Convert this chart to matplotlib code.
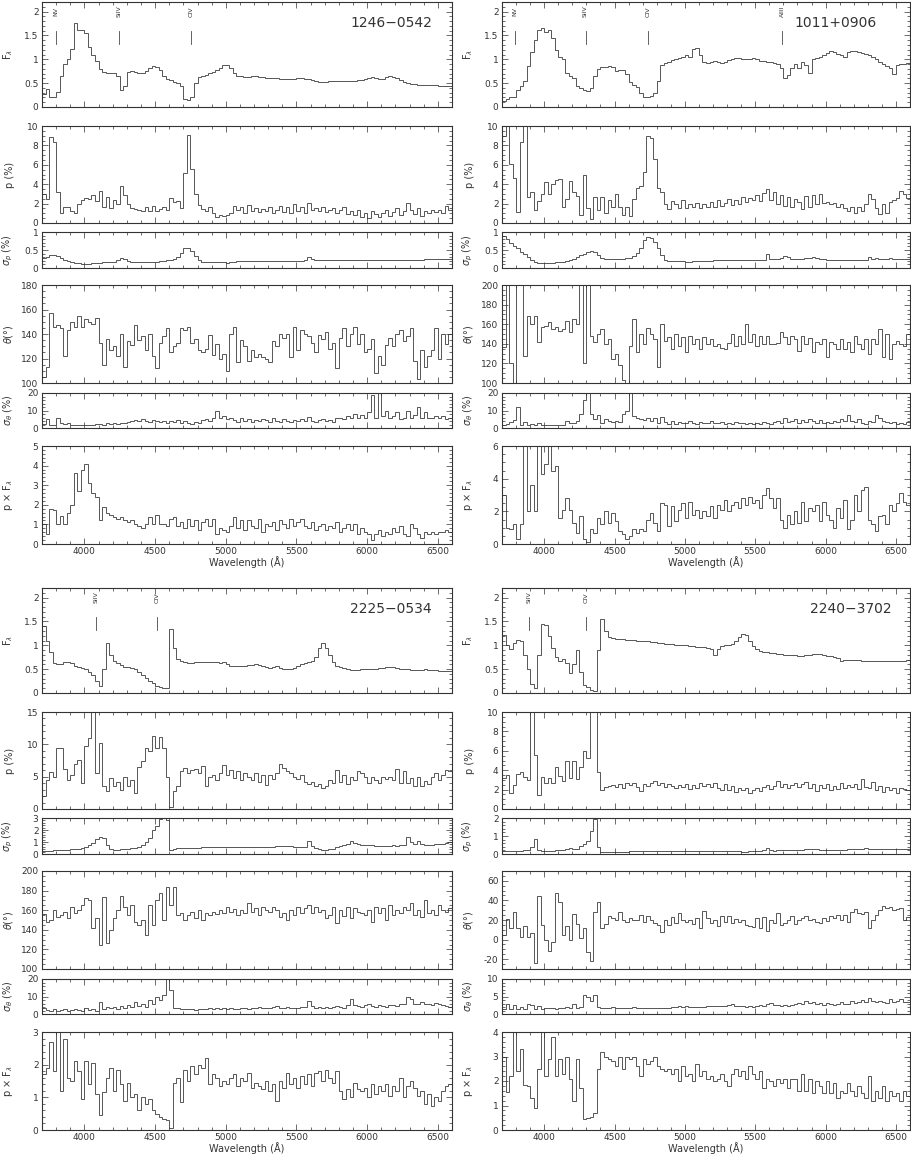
import numpy as np
import matplotlib
matplotlib.use('Agg')
import matplotlib.pyplot as plt
from matplotlib.ticker import MultipleLocator, AutoMinorLocator, FuncFormatter

# bin edges, 25 A wide, 3700-6600 A
edges = np.arange(3700, 6601, 25)

## 1246-0542
f_1246 = [0.28, 0.38, 0.22, 0.21, 0.32, 0.65, 0.90, 1.00,
          1.22, 1.75, 1.62, 1.62, 1.55, 1.25, 1.10, 0.97,
          0.80, 0.73, 0.72, 0.71, 0.72, 0.66, 0.36, 0.45,
          0.73, 0.75, 0.74, 0.72, 0.72, 0.76, 0.82, 0.85,
          0.83, 0.77, 0.65, 0.58, 0.56, 0.53, 0.50, 0.45,
          0.16, 0.15, 0.22, 0.50, 0.62, 0.64, 0.68, 0.71,
          0.73, 0.77, 0.82, 0.88, 0.88, 0.82, 0.72, 0.66,
          0.65, 0.63, 0.62, 0.64, 0.64, 0.63, 0.62, 0.61,
          0.61, 0.60, 0.60, 0.59, 0.59, 0.58, 0.58, 0.59,
          0.60, 0.60, 0.59, 0.58, 0.56, 0.55, 0.53, 0.52,
          0.53, 0.54, 0.54, 0.54, 0.54, 0.54, 0.54, 0.55,
          0.55, 0.56, 0.57, 0.58, 0.60, 0.62, 0.61, 0.58,
          0.59, 0.62, 0.64, 0.63, 0.60, 0.57, 0.53, 0.50,
          0.49, 0.48, 0.47, 0.47, 0.47, 0.46, 0.46, 0.46,
          0.45, 0.45, 0.44, 0.44]
p_1246 = [3.0, 2.5, 8.9, 8.3, 3.2, 1.0, 1.7, 1.7,
          1.2, 1.0, 2.0, 2.4, 2.6, 2.5, 2.9, 2.3,
          3.3, 1.6, 2.7, 1.5, 2.4, 2.0, 3.8, 2.9,
          2.0, 1.5, 1.4, 1.3, 1.2, 1.7, 1.2, 1.8,
          1.2, 1.4, 1.6, 1.3, 2.6, 2.2, 2.3, 1.5,
          5.2, 9.1, 5.6, 3.0, 1.9, 1.4, 1.2, 1.7,
          1.0, 0.6, 0.8, 0.7, 0.8, 1.0, 1.8, 1.3,
          1.6, 1.0, 1.9, 1.2, 1.5, 1.1, 1.4, 1.2,
          1.6, 1.0, 1.3, 1.8, 1.1, 1.7, 1.0, 2.0,
          1.2, 1.6, 1.0, 2.1, 1.3, 1.5, 1.2, 1.6,
          1.1, 1.3, 1.5, 1.0, 1.3, 1.6, 0.9, 1.2,
          0.8, 1.3, 0.6, 1.0, 0.5, 1.2, 0.9, 0.6,
          1.0, 1.3, 0.7, 1.1, 1.5, 0.8, 1.2, 2.1,
          1.3, 0.9, 1.5, 0.7, 1.2, 1.0, 1.3, 1.1,
          1.3, 1.0, 1.8, 1.3]
sigp_1246 = [0.28, 0.30, 0.35, 0.36, 0.33, 0.27, 0.22, 0.19,
             0.16, 0.14, 0.13, 0.12, 0.12, 0.12, 0.13, 0.14,
             0.15, 0.16, 0.17, 0.17, 0.18, 0.22, 0.27, 0.24,
             0.19, 0.17, 0.17, 0.17, 0.17, 0.17, 0.18, 0.18,
             0.18, 0.19, 0.20, 0.21, 0.22, 0.24, 0.30, 0.42,
             0.55, 0.56, 0.48, 0.32, 0.22, 0.18, 0.17, 0.17,
             0.17, 0.17, 0.16, 0.16, 0.15, 0.17, 0.18, 0.19,
             0.19, 0.20, 0.20, 0.20, 0.20, 0.20, 0.20, 0.20,
             0.20, 0.20, 0.20, 0.20, 0.20, 0.20, 0.20, 0.20,
             0.20, 0.20, 0.21, 0.30, 0.26, 0.21, 0.21, 0.22,
             0.22, 0.22, 0.22, 0.22, 0.21, 0.21, 0.22, 0.22,
             0.22, 0.22, 0.22, 0.22, 0.22, 0.22, 0.21, 0.21,
             0.21, 0.21, 0.21, 0.22, 0.22, 0.22, 0.22, 0.22,
             0.22, 0.22, 0.23, 0.23, 0.24, 0.24, 0.25, 0.25,
             0.25, 0.25, 0.25, 0.26]
theta_1246 = [105, 113, 157, 146, 147, 145, 122, 143,
              150, 146, 155, 146, 152, 150, 148, 153,
              133, 115, 136, 127, 130, 122, 140, 113,
              134, 131, 147, 135, 138, 127, 140, 122,
              112, 133, 138, 145, 125, 130, 133, 145,
              143, 146, 133, 136, 127, 125, 128, 139,
              123, 132, 120, 124, 110, 140, 146, 117,
              135, 130, 118, 127, 121, 124, 121, 120,
              117, 134, 130, 140, 137, 140, 121, 146,
              127, 143, 140, 138, 133, 125, 139, 136,
              142, 128, 133, 112, 137, 145, 130, 140,
              146, 132, 140, 125, 128, 136, 108, 122,
              115, 131, 137, 130, 140, 143, 134, 138,
              145, 118, 103, 127, 113, 122, 127, 145,
              120, 140, 132, 140]
sigt_1246 = [2.5, 5.0, 1.5, 2.0, 5.5, 3.0, 2.5, 3.0,
             2.0, 1.8, 1.6, 1.5, 1.6, 1.6, 1.8, 2.2,
             2.5, 2.0, 3.0, 2.5, 2.8, 2.5, 3.0, 3.0,
             3.5, 4.0, 4.5, 4.0, 5.0, 4.0, 3.5, 4.5,
             4.0, 3.5, 4.0, 3.0, 4.0, 3.5, 4.5, 3.0,
             4.0, 3.0, 2.5, 3.5, 3.0, 4.5, 5.0, 4.0,
             6.0, 10.0, 6.0, 7.0, 5.0, 6.0, 4.5, 3.5,
             5.5, 4.0, 5.0, 3.5, 4.5, 4.0, 5.0, 4.5,
             3.5, 5.5, 4.0, 3.5, 5.0, 4.0, 3.5, 4.5,
             4.0, 5.0, 4.0, 6.5, 4.0, 3.5, 4.5, 5.0,
             4.0, 4.5, 3.5, 6.0, 5.5, 5.0, 7.0, 5.5,
             8.0, 6.0, 7.5, 5.5, 9.0, 19.0, 6.0, 20.0,
             7.0, 10.0, 5.5, 7.0, 9.0, 5.0, 6.0, 10.0,
             5.5, 7.5, 12.0, 6.0, 9.0, 5.5, 6.0, 7.0,
             6.0, 7.0, 5.0, 6.0]
pf_1246 = [1.0, 0.5, 1.8, 1.75, 1.0, 1.45, 1.0, 1.6,
           2.0, 3.6, 2.7, 3.8, 4.1, 3.1, 2.6, 2.4,
           1.2, 1.9, 1.6, 1.5, 1.4, 1.3, 1.4, 1.2,
           1.1, 1.2, 1.0, 0.9, 0.8, 1.0, 1.4, 1.0,
           1.5, 1.0, 1.0, 0.9, 1.3, 1.4, 0.9, 1.1,
           0.8, 1.3, 0.9, 1.2, 0.7, 1.1, 1.3, 0.9,
           1.3, 0.5, 0.8, 0.7, 0.6, 0.9, 1.4, 0.8,
           1.2, 0.7, 1.2, 0.9, 0.8, 1.3, 0.6, 1.0,
           0.9, 1.1, 0.7, 1.2, 1.0, 0.8, 1.3, 0.9,
           1.1, 1.3, 0.9, 0.8, 1.1, 0.7, 0.9, 1.0,
           0.7, 0.9, 0.8, 1.1, 0.6, 0.8, 1.0, 0.7,
           1.0, 0.5, 0.8, 0.6, 0.5, 0.2, 0.5, 0.7,
           0.4, 0.6, 0.5, 0.8, 0.6, 0.9, 0.5, 0.4,
           1.0, 0.8, 0.5, 0.3, 0.6, 0.5, 0.6, 0.5,
           0.6, 0.6, 0.7, 0.6]

## 1011+0906
f_1011 = [0.12, 0.17, 0.20, 0.20, 0.35, 0.45, 0.55, 0.85,
          1.15, 1.40, 1.62, 1.65, 1.58, 1.62, 1.45, 1.20,
          1.05, 1.00, 0.72, 0.65, 0.60, 0.45, 0.40, 0.36,
          0.34, 0.40, 0.65, 0.80, 0.83, 0.84, 0.85, 0.84,
          0.75, 0.78, 0.78, 0.70, 0.52, 0.47, 0.42, 0.30,
          0.22, 0.22, 0.23, 0.30, 0.55, 0.88, 0.92, 0.95,
          0.98, 1.00, 1.02, 1.05, 1.10, 1.05, 1.22, 1.24,
          1.10, 0.95, 0.92, 0.95, 0.96, 0.94, 0.93, 0.95,
          0.98, 1.00, 1.02, 1.02, 1.00, 1.01, 1.00, 1.02,
          1.00, 0.97, 0.96, 0.95, 0.95, 0.93, 0.90, 0.82,
          0.60, 0.68, 0.82, 0.90, 0.82, 0.95, 0.88, 0.72,
          1.00, 1.02, 1.05, 1.10, 1.13, 1.17, 1.15, 1.12,
          1.08, 1.05, 1.15, 1.17, 1.18, 1.16, 1.14, 1.12,
          1.08, 1.05, 1.00, 0.95, 0.90, 0.86, 0.82, 0.70,
          0.88, 0.90, 0.91, 0.92]
p_1011 = [9.0, 11.0, 6.1, 4.6, 1.1, 8.4, 11.0, 2.7,
          3.2, 1.3, 2.3, 3.0, 4.2, 3.0, 4.0, 4.4,
          4.5, 1.7, 2.5, 4.3, 3.2, 2.8, 0.8, 5.0,
          1.5, 0.4, 2.7, 1.3, 2.7, 1.0, 2.4, 1.7,
          3.0, 1.6, 0.8, 1.7, 0.7, 2.5, 3.6, 3.8,
          5.3, 9.0, 8.8, 6.6, 3.6, 3.2, 2.0, 1.4,
          2.3, 2.0, 1.5, 2.4, 1.5, 2.0, 1.6, 2.1,
          1.5, 2.0, 1.7, 2.2, 1.6, 2.4, 1.8, 2.1,
          2.5, 1.9, 2.4, 2.0, 2.7, 2.2, 2.6, 2.4,
          2.9, 2.3, 3.1, 3.5, 2.4, 3.2, 2.0, 2.9,
          1.8, 2.7, 1.6, 2.5, 2.2, 1.4, 2.8, 1.7,
          2.9, 2.0, 3.0, 2.1, 2.2, 2.0, 2.1, 1.7,
          2.0, 1.5, 1.2, 1.7, 1.0, 1.6, 1.2, 2.0,
          3.0, 2.5, 1.5, 0.9, 2.0, 1.0, 2.2, 2.4,
          2.6, 3.3, 3.0, 2.6]
sigp_1011 = [0.90, 0.80, 0.70, 0.62, 0.55, 0.45, 0.38, 0.30,
             0.22, 0.18, 0.15, 0.14, 0.14, 0.15, 0.15, 0.16,
             0.17, 0.18, 0.20, 0.22, 0.25, 0.30, 0.35, 0.40,
             0.45, 0.47, 0.45, 0.35, 0.27, 0.25, 0.25, 0.24,
             0.25, 0.25, 0.26, 0.27, 0.28, 0.33, 0.42, 0.55,
             0.78, 0.85, 0.82, 0.72, 0.55, 0.35, 0.22, 0.20,
             0.20, 0.20, 0.19, 0.19, 0.18, 0.18, 0.19, 0.20,
             0.20, 0.20, 0.20, 0.20, 0.21, 0.21, 0.21, 0.21,
             0.21, 0.21, 0.21, 0.21, 0.21, 0.22, 0.22, 0.22,
             0.22, 0.22, 0.23, 0.38, 0.25, 0.24, 0.25, 0.29,
             0.32, 0.30, 0.26, 0.25, 0.24, 0.25, 0.27, 0.28,
             0.30, 0.28, 0.26, 0.24, 0.22, 0.22, 0.22, 0.21,
             0.21, 0.21, 0.21, 0.22, 0.22, 0.22, 0.23, 0.23,
             0.30, 0.25, 0.27, 0.25, 0.24, 0.26, 0.27, 0.26,
             0.25, 0.25, 0.24, 0.24]
theta_1011 = [137, 205, 120, 90, 205, 200, 128, 168,
              160, 168, 142, 157, 158, 162, 155, 157,
              153, 155, 163, 152, 165, 160, 205, 120,
              205, 148, 142, 150, 155, 140, 145, 125,
              130, 118, 103, 93, 138, 165, 132, 150,
              140, 156, 150, 145, 116, 160, 143, 147,
              135, 150, 138, 147, 132, 148, 140, 145,
              135, 147, 140, 145, 138, 140, 136, 135,
              141, 150, 138, 148, 140, 160, 142, 150,
              138, 148, 140, 148, 140, 140, 141, 152,
              147, 140, 148, 145, 133, 148, 140, 146,
              132, 142, 140, 145, 127, 142, 140, 135,
              145, 135, 142, 132, 148, 140, 135, 145,
              130, 145, 140, 155, 127, 150, 125, 140,
              143, 140, 138, 150]
sigt_1011 = [2.0, 2.5, 3.5, 4.5, 12.0, 2.0, 3.5, 2.0,
             2.5, 2.0, 3.0, 2.0, 1.5, 1.5, 1.8, 1.5,
             2.0, 1.8, 4.0, 3.0, 2.8, 4.0, 8.0, 16.0,
             20.0, 8.0, 5.0, 7.5, 3.0, 5.0, 4.0, 3.5,
             4.0, 3.5, 8.0, 9.5, 20.0, 7.0, 6.0, 5.0,
             4.5, 6.0, 4.0, 5.5, 3.0, 6.5, 3.5, 2.5,
             4.0, 2.5, 3.5, 3.0, 2.8, 4.0, 3.0, 2.5,
             3.5, 2.8, 3.0, 4.0, 3.0, 3.0, 3.5, 2.5,
             3.0, 2.5, 3.5, 2.8, 3.0, 2.5, 2.8, 2.5,
             3.0, 2.5, 3.5, 3.0, 2.5, 3.5, 4.0, 3.0,
             5.5, 3.5, 4.0, 5.0, 3.0, 4.5, 3.5, 5.0,
             4.0, 3.0, 4.5, 3.0, 3.5, 2.8, 4.0, 3.5,
             5.0, 4.0, 7.5, 4.0, 3.5, 5.0, 3.0, 2.5,
             4.0, 3.5, 7.5, 6.0, 4.0, 3.5, 3.0, 3.5,
             2.5, 3.0, 2.5, 3.5]
pf_1011 = [3.0, 1.0, 0.9, 1.2, 0.3, 1.2, 6.5, 2.0,
           3.6, 2.0, 6.5, 4.3, 4.9, 6.5, 4.5, 4.8,
           1.6, 2.1, 2.8, 2.1, 1.3, 0.7, 1.7, 0.3,
           0.15, 0.9, 0.7, 1.6, 1.2, 2.0, 1.3, 1.9,
           1.4, 0.8, 0.6, 0.3, 0.5, 0.9, 0.7, 0.9,
           0.8, 1.5, 1.9, 1.3, 0.8, 2.5, 2.4, 1.1,
           2.3, 1.4, 2.1, 2.5, 1.6, 2.6, 1.8, 2.1,
           1.6, 2.0, 1.7, 2.3, 1.6, 2.4, 2.1, 2.7,
           2.0, 2.4, 2.6, 2.2, 2.8, 2.4, 2.9, 2.5,
           2.7, 2.2, 3.0, 3.4, 2.8, 2.2, 2.8, 1.5,
           1.0, 1.8, 1.2, 2.0, 1.3, 2.6, 1.4, 2.2,
           2.0, 2.4, 1.4, 2.6, 1.8, 1.5, 1.0, 2.2,
           1.6, 2.7, 0.9, 1.5, 3.0, 2.0, 3.3, 3.5,
           1.5, 1.2, 0.8, 1.7, 1.8, 1.2, 2.4, 2.0,
           2.5, 3.1, 2.6, 2.4]

## 2225-0534
f_2225 = [1.40, 1.10, 0.85, 0.62, 0.60, 0.60, 0.64, 0.65,
          0.63, 0.57, 0.55, 0.53, 0.50, 0.45, 0.38, 0.25,
          0.15, 0.50, 1.05, 0.80, 0.67, 0.62, 0.58, 0.55,
          0.54, 0.53, 0.50, 0.45, 0.38, 0.32, 0.25, 0.20,
          0.15, 0.12, 0.10, 0.10, 1.35, 0.95, 0.72, 0.68,
          0.65, 0.63, 0.63, 0.64, 0.64, 0.65, 0.64, 0.65,
          0.65, 0.66, 0.63, 0.64, 0.60, 0.57, 0.56, 0.56,
          0.56, 0.57, 0.58, 0.59, 0.60, 0.58, 0.56, 0.55,
          0.53, 0.55, 0.57, 0.53, 0.51, 0.50, 0.50, 0.52,
          0.57, 0.60, 0.63, 0.65, 0.68, 0.75, 0.95, 1.05,
          0.95, 0.80, 0.65, 0.57, 0.55, 0.52, 0.50, 0.49,
          0.48, 0.49, 0.50, 0.50, 0.50, 0.50, 0.51, 0.52,
          0.53, 0.54, 0.55, 0.54, 0.52, 0.51, 0.50, 0.50,
          0.49, 0.49, 0.48, 0.49, 0.50, 0.49, 0.48, 0.48,
          0.47, 0.47, 0.47, 0.47]
p_2225 = [2.0, 4.5, 5.7, 5.0, 9.5, 9.4, 6.2, 4.5,
          5.2, 7.0, 7.6, 4.0, 9.8, 11.0, 15.5, 5.5,
          10.2, 3.5, 2.8, 4.8, 3.5, 4.2, 3.0, 5.0,
          3.5, 4.5, 2.5, 6.5, 7.5, 9.5, 9.0, 11.3,
          9.5, 11.2, 9.5, 5.0, 0.3, 2.8, 3.5, 5.8,
          6.3, 5.5, 6.0, 6.2, 5.5, 6.7, 3.5, 5.0,
          5.2, 4.5, 5.5, 6.8, 5.2, 6.0, 4.8, 5.8,
          4.5, 5.5, 5.0, 4.5, 5.5, 4.2, 5.3, 3.7,
          5.2, 4.6, 5.5, 6.9, 6.4, 5.8, 5.5, 5.0,
          4.6, 5.3, 4.2, 3.8, 4.2, 3.6, 3.8, 3.3,
          3.6, 4.5, 4.0, 6.1, 4.2, 5.3, 3.8, 5.0,
          4.5, 5.8, 5.5, 5.0, 4.0, 5.0, 4.5, 4.0,
          5.0, 4.6, 5.0, 4.5, 6.2, 4.0, 5.8, 4.0,
          4.8, 3.6, 5.0, 3.5, 4.3, 3.8, 5.0, 5.5,
          4.5, 5.2, 6.0, 5.8]
sigp_2225 = [0.25, 0.27, 0.28, 0.30, 0.30, 0.32, 0.35, 0.37,
             0.40, 0.42, 0.45, 0.50, 0.60, 0.75, 0.95, 1.25,
             1.40, 1.30, 0.75, 0.45, 0.32, 0.35, 0.40, 0.42,
             0.45, 0.47, 0.50, 0.60, 0.75, 1.00, 1.35, 2.00,
             2.30, 2.90, 3.00, 2.80, 0.35, 0.45, 0.50, 0.50,
             0.52, 0.53, 0.53, 0.54, 0.54, 0.55, 0.55, 0.55,
             0.55, 0.55, 0.55, 0.55, 0.55, 0.55, 0.55, 0.56,
             0.56, 0.57, 0.58, 0.58, 0.60, 0.62, 0.62, 0.60,
             0.60, 0.62, 0.63, 0.64, 0.65, 0.65, 0.64, 0.62,
             0.60, 0.60, 0.60, 1.05, 0.65, 0.50, 0.40, 0.35,
             0.35, 0.40, 0.45, 0.55, 0.65, 0.75, 0.85, 1.05,
             0.90, 0.80, 0.78, 0.75, 0.72, 0.72, 0.70, 0.70,
             0.70, 0.68, 0.70, 0.72, 0.70, 0.72, 0.75, 1.40,
             1.00, 0.80, 1.05, 0.85, 0.75, 0.75, 0.75, 0.80,
             0.80, 0.85, 0.95, 1.00]
theta_2225 = [156, 148, 150, 160, 153, 155, 158, 152,
              163, 157, 160, 165, 172, 170, 142, 152,
              125, 173, 127, 140, 152, 160, 175, 163,
              155, 165, 148, 145, 150, 135, 165, 145,
              170, 178, 150, 184, 165, 184, 155, 157,
              150, 155, 158, 152, 160, 150, 157, 155,
              158, 156, 160, 157, 163, 158, 161, 155,
              160, 157, 167, 158, 162, 155, 163, 160,
              158, 163, 160, 153, 157, 150, 160, 155,
              163, 157, 162, 165, 157, 163, 158, 160,
              152, 155, 163, 147, 160, 154, 163, 152,
              162, 158, 157, 155, 160, 148, 163, 157,
              162, 150, 165, 155, 160, 157, 163, 160,
              167, 155, 160, 153, 170, 157, 160, 155,
              165, 160, 158, 162]
sigt_2225 = [3.5, 2.5, 2.0, 3.0, 2.0, 2.5, 3.0, 2.0,
             2.5, 3.0, 2.5, 2.0, 3.5, 2.5, 3.0, 2.0,
             7.0, 3.0, 4.0, 3.5, 4.0, 3.0, 4.5, 3.5,
             5.0, 4.0, 7.0, 4.5, 5.5, 4.0, 8.0, 6.0,
             10.0, 8.0, 11.0, 20.0, 14.0, 3.5, 3.5, 3.0,
             3.0, 2.8, 3.0, 2.5, 2.8, 2.6, 3.0, 3.2,
             3.0, 3.3, 3.0, 3.5, 2.8, 3.2, 3.0, 2.8,
             3.3, 3.5, 3.0, 3.6, 3.2, 3.8, 3.5, 3.6,
             3.4, 3.8, 4.5, 3.5, 3.3, 3.8, 3.2, 3.5,
             3.5, 4.2, 3.8, 7.5, 4.5, 3.5, 3.8, 3.5,
             4.0, 3.5, 3.8, 4.5, 4.0, 3.5, 5.0, 8.5,
             5.0, 4.5, 4.0, 5.0, 5.5, 4.5, 4.0, 5.0,
             4.5, 4.0, 5.0, 5.0, 4.5, 5.5, 6.0, 9.5,
             8.5, 6.0, 5.5, 7.0, 5.5, 6.0, 5.0, 6.5,
             5.5, 5.0, 4.5, 4.0]
pf_2225 = [1.7, 1.9, 2.7, 1.8, 3.0, 1.2, 2.8, 1.6,
           1.5, 2.1, 1.8, 0.95, 2.1, 1.4, 2.05, 1.1,
           0.45, 1.15, 1.6, 1.9, 1.2, 1.85, 1.4, 0.9,
           1.45, 1.0, 1.1, 0.6, 1.0, 0.8, 0.95, 0.6,
           0.5, 0.4, 0.35, 0.3, 0.05, 1.45, 1.6, 0.85,
           1.85, 1.5, 1.95, 1.7, 2.0, 1.9, 2.2, 1.4,
           1.7, 1.6, 1.35, 1.5, 1.4, 1.6, 1.7, 1.35,
           1.6, 1.5, 1.75, 1.3, 1.45, 1.35, 1.25, 1.5,
           1.2, 1.4, 0.9, 1.5, 1.3, 1.75, 1.4, 1.6,
           1.3, 1.65, 1.4, 1.7, 1.35, 1.75, 1.8, 1.5,
           1.85, 1.6, 1.45, 1.8, 1.2, 0.95, 1.25, 1.0,
           1.45, 1.25, 1.2, 1.3, 1.0, 1.4, 1.1, 1.35,
           1.2, 1.4, 1.05, 1.35, 1.2, 1.6, 1.0, 1.35,
           1.5, 1.3, 1.05, 1.2, 0.8, 1.1, 0.75, 1.0,
           0.9, 1.2, 1.35, 1.4]

## 2240-3702
f_2240 = [1.22, 1.00, 0.92, 1.05, 1.12, 1.10, 0.80, 0.50,
          0.18, 0.10, 0.80, 1.45, 1.42, 1.20, 0.95, 0.75,
          0.68, 0.72, 0.62, 0.42, 0.60, 0.90, 0.45, 0.16,
          0.12, 0.06, 0.05, 0.90, 1.55, 1.30, 1.18, 1.15,
          1.14, 1.13, 1.13, 1.12, 1.12, 1.11, 1.10, 1.10,
          1.08, 1.08, 1.07, 1.06, 1.05, 1.04, 1.03, 1.02,
          1.02, 1.01, 1.00, 1.00, 1.00, 0.99, 0.98, 0.97,
          0.97, 0.96, 0.95, 0.93, 0.80, 0.92, 0.98, 1.00,
          1.00, 1.03, 1.10, 1.18, 1.24, 1.22, 1.10, 0.98,
          0.92, 0.88, 0.86, 0.85, 0.84, 0.83, 0.82, 0.81,
          0.80, 0.80, 0.79, 0.79, 0.78, 0.78, 0.79, 0.80,
          0.81, 0.82, 0.82, 0.80, 0.78, 0.77, 0.75, 0.73,
          0.67, 0.70, 0.70, 0.70, 0.69, 0.69, 0.68, 0.68,
          0.67, 0.67, 0.67, 0.67, 0.67, 0.67, 0.67, 0.67,
          0.67, 0.68, 0.68, 0.69]
p_2240 = [3.2, 3.5, 1.7, 2.5, 3.6, 3.8, 3.3, 3.0,
          10.5, 5.6, 1.4, 3.3, 2.7, 3.2, 2.7, 4.3,
          3.4, 2.9, 4.9, 3.2, 4.9, 3.1, 4.3, 6.0,
          5.3, 10.5, 10.5, 3.8, 2.0, 2.3, 2.4, 2.5,
          2.3, 2.6, 2.2, 2.7, 2.5, 2.7, 2.3, 1.9,
          2.6, 2.4, 2.7, 2.9, 2.5, 2.7, 2.3, 2.6,
          2.4, 2.2, 2.5, 2.3, 2.6, 2.1, 2.5, 2.2,
          2.7, 2.4, 2.6, 2.3, 2.7, 2.2, 2.0, 2.6,
          2.0, 2.4, 1.8, 2.2, 2.0, 2.2, 1.7, 2.0,
          2.2, 1.9, 2.3, 2.5, 2.1, 2.4, 2.9, 2.3,
          2.6, 2.2, 2.5, 2.7, 2.3, 2.6, 2.8, 2.2,
          2.6, 1.9, 2.5, 2.2, 2.6, 2.0, 2.4, 2.1,
          2.7, 2.2, 2.5, 2.3, 2.6, 2.1, 3.1, 2.3,
          2.2, 2.8, 2.0, 2.4, 1.8, 2.3, 2.0, 2.2,
          1.7, 2.2, 2.1, 2.0]
sigp_2240 = [0.18, 0.17, 0.15, 0.16, 0.16, 0.18, 0.20, 0.25,
             0.40, 0.85, 0.25, 0.15, 0.15, 0.17, 0.18, 0.20,
             0.22, 0.25, 0.27, 0.32, 0.28, 0.30, 0.45, 0.55,
             0.75, 1.30, 1.95, 0.40, 0.12, 0.11, 0.11, 0.11,
             0.12, 0.12, 0.13, 0.13, 0.14, 0.14, 0.15, 0.15,
             0.15, 0.16, 0.16, 0.16, 0.16, 0.16, 0.16, 0.16,
             0.16, 0.16, 0.16, 0.16, 0.16, 0.16, 0.16, 0.16,
             0.16, 0.16, 0.16, 0.16, 0.15, 0.15, 0.15, 0.15,
             0.15, 0.14, 0.14, 0.14, 0.13, 0.13, 0.14, 0.15,
             0.17, 0.18, 0.20, 0.35, 0.20, 0.19, 0.20, 0.20,
             0.20, 0.20, 0.21, 0.22, 0.23, 0.25, 0.27, 0.30,
             0.28, 0.26, 0.25, 0.25, 0.25, 0.25, 0.25, 0.25,
             0.25, 0.25, 0.26, 0.26, 0.27, 0.27, 0.27, 0.35,
             0.28, 0.27, 0.26, 0.26, 0.26, 0.26, 0.26, 0.26,
             0.26, 0.26, 0.26, 0.26]
theta_2240 = [5, 21, 12, 28, 12, 3, 14, 3,
              7, -24, 44, 15, 0, -12, -2, 48,
              38, 5, 14, 0, 26, 16, 2, 12,
              -13, -22, 28, 38, 12, 16, 24, 22,
              20, 28, 20, 18, 22, 20, 20, 25,
              18, 24, 20, 17, 15, 8, 20, 15,
              23, 17, 27, 20, 18, 20, 16, 22,
              12, 29, 22, 17, 20, 14, 24, 18,
              24, 17, 21, 18, 20, 15, 14, 13,
              22, 12, 23, 9, 20, 17, 27, 15,
              17, 20, 24, 16, 20, 22, 24, 20,
              21, 18, 17, 22, 19, 24, 22, 25,
              20, 25, 18, 28, 31, 27, 26, 28,
              12, 20, 25, 30, 34, 32, 33, 30,
              31, 32, 20, 23]
sigt_2240 = [1.5, 2.8, 1.5, 2.5, 1.3, 2.0, 1.5, 2.8,
             2.5, 1.4, 2.2, 1.5, 1.8, 1.6, 1.8, 1.5,
             1.8, 1.6, 2.0, 1.7, 2.8, 1.6, 2.0, 5.3,
             4.8, 3.8, 5.5, 1.9, 1.8, 1.8, 1.8, 1.9,
             1.8, 1.8, 1.7, 1.8, 1.8, 1.9, 1.7, 1.8,
             1.8, 1.8, 1.7, 1.8, 1.8, 1.7, 1.8, 1.8,
             1.9, 2.1, 2.3, 2.0, 2.2, 1.9, 2.0, 2.1,
             2.0, 2.1, 2.2, 2.3, 2.2, 2.3, 2.4, 2.2,
             2.5, 2.8, 2.2, 2.3, 2.2, 2.1, 2.2, 2.1,
             2.4, 2.6, 2.3, 2.8, 3.2, 2.5, 2.6, 2.2,
             2.5, 2.3, 2.6, 2.8, 3.2, 3.0, 3.6, 3.2,
             3.3, 2.8, 3.1, 2.7, 3.2, 3.0, 2.6, 2.8,
             3.4, 3.0, 2.8, 3.6, 3.2, 3.5, 4.0, 3.5,
             4.5, 3.8, 3.5, 3.8, 3.4, 3.2, 4.2, 3.5,
             3.8, 4.4, 3.5, 3.4]
pf_2240 = [3.0, 1.55, 2.2, 4.0, 2.4, 3.3, 1.85, 1.8,
           1.3, 0.9, 2.5, 4.0, 2.2, 2.9, 3.8, 2.2,
           2.9, 2.3, 3.0, 2.1, 1.2, 2.9, 1.7, 0.45,
           0.5, 0.55, 0.7, 2.5, 3.2, 3.0, 2.9, 2.8,
           2.6, 3.0, 2.5, 3.0, 2.9, 3.0, 2.6, 2.2,
           2.9, 2.7, 2.8, 3.0, 2.6, 2.5, 2.4, 2.5,
           2.3, 2.5, 2.0, 2.6, 2.2, 2.3, 2.0, 2.7,
           2.2, 2.4, 2.1, 2.2, 2.0, 2.1, 2.3, 2.0,
           1.8, 2.3, 2.5, 2.2, 2.4, 2.1, 2.6, 2.3,
           2.1, 2.4, 1.7, 2.1, 2.0, 1.8, 2.1, 1.9,
           2.1, 1.7, 2.1, 2.1, 1.6, 2.3, 1.6, 2.1,
           1.5, 2.0, 1.8, 1.5, 2.0, 1.5, 1.9, 1.3,
           1.6, 1.5, 1.9, 1.6, 1.4, 1.8, 1.5, 1.3,
           2.2, 1.2, 1.6, 1.3, 1.8, 1.2, 1.6, 1.4,
           1.5, 1.2, 1.6, 1.4]

ylabels = [r'F$_\lambda$', 'p (%)', r'$\sigma_p$ (%)', r'$\theta$(°)',
           r'$\sigma_\theta$ (%)', r'p $\times$ F$_\lambda$']

# panel rows in pixels (top, bottom) for the upper block
rows = [(2, 107), (126, 223), (232, 268), (285, 383), (393, 428), (446, 544)]
W, H = 911.0, 1155.0
line_col = '#4a4a4a'
txt_col = '#333333'

fig = plt.figure(figsize=(9.11, 11.55), dpi=100)


def fmt(v, pos):
    return '%g' % v


def draw_object(x0, x1, shift, name, name_x, series, limits, lines):
    for i, (top, bot) in enumerate(rows):
        top += shift
        bot += shift
        ax = fig.add_axes([x0 / W, 1 - bot / H, (x1 - x0) / W, (bot - top) / H])
        ax.stairs(series[i], edges, baseline=None, color=line_col, lw=0.65)
        lo, hi, step = limits[i]
        ax.set_xlim(3700, 6600)
        ax.set_ylim(lo, hi)
        ax.xaxis.set_major_locator(MultipleLocator(500))
        ax.xaxis.set_minor_locator(MultipleLocator(100))
        ax.yaxis.set_major_locator(MultipleLocator(step))
        ax.yaxis.set_minor_locator(AutoMinorLocator())
        ax.yaxis.set_major_formatter(FuncFormatter(fmt))
        ax.tick_params(which='both', direction='in', top=True, right=True,
                       labelsize=6.5, width=0.5, colors=txt_col, pad=2.5)
        ax.tick_params(which='major', length=4)
        ax.tick_params(which='minor', length=2)
        for s in ax.spines.values():
            s.set_linewidth(0.8)
            s.set_color(txt_col)
        ax.set_ylabel(ylabels[i], fontsize=7, color=txt_col)
        ax.yaxis.set_label_coords(-0.065, 0.5)
        if i < 5:
            ax.tick_params(labelbottom=False)
        else:
            # wavelength label sits ~18 px under the bottom panel
            ax.text(0.5, -0.185, 'Wavelength (Å)', transform=ax.transAxes,
                    ha='center', va='center', fontsize=7, color=txt_col)
        if i == 0:
            ax.text(name_x, 0.8, name, transform=ax.transAxes, ha='right',
                    va='center', fontsize=10, color=txt_col)
            for lab, wl in lines:
                ax.plot([wl, wl], [1.32, 1.6], color=line_col, lw=0.6)
                ax.text(wl, 2.0, lab, rotation=90, fontsize=4.5, ha='center',
                        va='center', color=txt_col)


draw_object(42, 452, 0, '1246−0542', 0.951,
            [f_1246, p_1246, sigp_1246, theta_1246, sigt_1246, pf_1246],
            [(0, 2.2, 0.5), (0, 10, 2), (0, 1, 0.5), (100, 180, 20), (0, 20, 10), (0, 5, 1)],
            [('NV', 3800), ('SiIV', 4246), ('CIV', 4752)])
draw_object(502, 910, 0, '1011+0906', 0.919,
            [f_1011, p_1011, sigp_1011, theta_1011, sigt_1011, pf_1011],
            [(0, 2.2, 0.5), (0, 10, 2), (0, 1, 0.5), (100, 200, 20), (0, 20, 10), (0, 6, 2)],
            [('NV', 3795), ('SiIV', 4294), ('CIV', 4741), ('AlIII', 5691)])
draw_object(42, 452, 586, '2225−0534', 0.951,
            [f_2225, p_2225, sigp_2225, theta_2225, sigt_2225, pf_2225],
            [(0, 2.2, 0.5), (0, 15, 5), (0, 3, 1), (100, 200, 20), (0, 20, 10), (0, 3, 1)],
            [('SiIV', 4081), ('CIV', 4516)])
draw_object(502, 910, 586, '2240−3702', 0.955,
            [f_2240, p_2240, sigp_2240, theta_2240, sigt_2240, pf_2240],
            [(0, 2.2, 0.5), (0, 10, 2), (0, 2, 1), (-30, 70, 20), (0, 10, 5), (0, 4, 1)],
            [('SiIV', 3891), ('CIV', 4299)])

fig.savefig('out.png', dpi=100)
